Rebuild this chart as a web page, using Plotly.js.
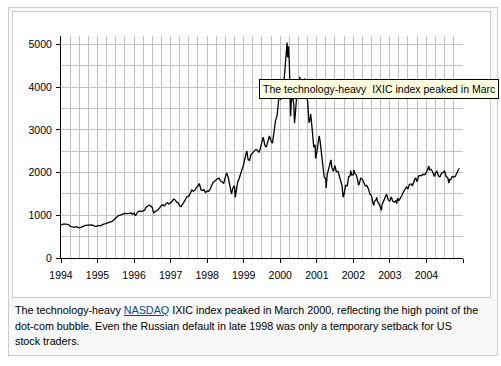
<!DOCTYPE html>
<html>
<head>
<meta charset="utf-8">
<script src="https://cdn.plot.ly/plotly-3.0.1.min.js"></script>
<style>
  html, body { margin: 0; padding: 0; background: #fff; width: 501px; height: 366px; overflow: hidden; }
  #outer { position: absolute; left: 8px; top: 7px; width: 490px; height: 349px; box-sizing: border-box; border: 1px solid #cccccc; background: #f9f9f9; }
  #inner { position: absolute; left: 12px; top: 11px; width: 479px; height: 287px; box-sizing: border-box; border: 1px solid #cccccc; background: #ffffff; }
  #chart { position: absolute; left: 0; top: 0; width: 501px; height: 366px; }
  #caption { position: absolute; left: 15px; top: 303px; font-family: "Liberation Sans", Arial, sans-serif; font-size: 10.75px; line-height: 15.5px; color: #000; white-space: nowrap; }
  #caption a { color: #0645ad; text-decoration: underline; }
</style>
</head>
<body>
<div id="outer"></div>
<div id="inner"></div>
<div id="chart"></div>
<div id="caption">The technology-heavy <a href="#">NASDAQ</a> IXIC index peaked in March 2000, reflecting the high point of the<br>dot-com bubble. Even the Russian default in late 1998 was only a temporary setback for US<br>stock traders.</div>
<script>
var dates = [
"1994-01-01","1994-01-15","1994-02-01","1994-02-15","1994-03-01","1994-03-15","1994-04-01","1994-04-15","1994-05-01","1994-05-15","1994-06-01","1994-06-15","1994-07-01","1994-07-15","1994-08-01","1994-08-15","1994-09-01","1994-09-15","1994-10-01","1994-10-15","1994-11-01","1994-11-15","1994-12-01","1994-12-15",
"1995-01-01","1995-01-15","1995-02-01","1995-02-15","1995-03-01","1995-03-15","1995-04-01","1995-04-15","1995-05-01","1995-05-15","1995-06-01","1995-06-15","1995-07-01","1995-07-15","1995-08-01","1995-08-15","1995-09-01","1995-09-15","1995-10-01","1995-10-15","1995-11-01","1995-11-15","1995-12-01","1995-12-15",
"1996-01-01","1996-01-15","1996-02-01","1996-02-15","1996-03-01","1996-03-15","1996-04-01","1996-04-15","1996-05-01","1996-05-15","1996-06-01","1996-06-15","1996-07-01","1996-07-15","1996-08-01","1996-08-15","1996-09-01","1996-09-15","1996-10-01","1996-10-15","1996-11-01","1996-11-15","1996-12-01","1996-12-15",
"1997-01-01","1997-01-15","1997-02-01","1997-02-15","1997-03-01","1997-03-15","1997-04-01","1997-04-15","1997-05-01","1997-05-15","1997-06-01","1997-06-15","1997-07-01","1997-07-15","1997-08-01","1997-08-15","1997-09-01","1997-09-15","1997-10-01","1997-10-15","1997-11-01","1997-11-15","1997-12-01","1997-12-15",
"1998-01-01","1998-01-15","1998-02-01","1998-02-15","1998-03-01","1998-03-15","1998-04-01","1998-04-15","1998-05-01","1998-05-15","1998-06-01","1998-06-15","1998-07-01","1998-07-15","1998-08-01","1998-08-15","1998-09-01","1998-09-15","1998-10-01","1998-10-08","1998-10-15","1998-11-01","1998-11-15","1998-12-01","1998-12-15",
"1999-01-01","1999-01-15","1999-02-01","1999-02-15","1999-03-01","1999-03-15","1999-04-01","1999-04-15","1999-05-01","1999-05-15","1999-06-01","1999-06-15","1999-07-01","1999-07-15","1999-08-01","1999-08-15","1999-09-01","1999-09-15","1999-10-01","1999-10-15","1999-11-01","1999-11-15","1999-12-01","1999-12-15",
"2000-01-01","2000-01-05","2000-01-15","2000-02-01","2000-02-15","2000-03-01","2000-03-10","2000-03-15","2000-03-24","2000-04-01","2000-04-14","2000-04-20","2000-05-01","2000-05-15","2000-05-23","2000-06-01","2000-06-15","2000-07-01","2000-07-15","2000-08-01","2000-08-15","2000-09-01","2000-09-15","2000-10-01","2000-10-15","2000-10-25","2000-11-01","2000-11-15","2000-12-01","2000-12-15","2000-12-20",
"2001-01-01","2001-01-15","2001-01-24","2001-02-01","2001-02-15","2001-03-01","2001-03-15","2001-04-01","2001-04-04","2001-04-15","2001-05-01","2001-05-22","2001-06-01","2001-06-15","2001-07-01","2001-07-15","2001-08-01","2001-08-15","2001-09-01","2001-09-10","2001-09-21","2001-10-01","2001-10-15","2001-11-01","2001-11-15","2001-12-01","2001-12-05","2001-12-15",
"2002-01-01","2002-01-04","2002-01-15","2002-02-01","2002-02-15","2002-02-21","2002-03-01","2002-03-15","2002-04-01","2002-04-15","2002-05-01","2002-05-15","2002-05-24","2002-06-01","2002-06-15","2002-07-01","2002-07-15","2002-07-24","2002-08-01","2002-08-15","2002-08-22","2002-09-01","2002-09-15","2002-10-01","2002-10-09","2002-10-15","2002-11-01","2002-11-15","2002-11-27","2002-12-01","2002-12-15",
"2003-01-01","2003-01-15","2003-02-01","2003-02-15","2003-03-01","2003-03-11","2003-03-20","2003-04-01","2003-04-15","2003-05-01","2003-05-15","2003-06-01","2003-06-15","2003-07-01","2003-07-15","2003-08-01","2003-08-15","2003-09-01","2003-09-15","2003-10-01","2003-10-15","2003-11-01","2003-11-15","2003-12-01","2003-12-15",
"2004-01-01","2004-01-15","2004-01-26","2004-02-01","2004-02-15","2004-03-01","2004-03-22","2004-04-01","2004-04-15","2004-05-01","2004-05-15","2004-06-01","2004-06-15","2004-07-01","2004-07-15","2004-08-01","2004-08-12","2004-08-20","2004-09-01","2004-09-15","2004-10-01","2004-10-15","2004-11-01","2004-11-15","2004-11-25"
];
var nasdaq = [
777,790,800,795,793,790,743,730,733,720,735,720,706,712,722,745,765,770,764,770,777,765,750,735,
752,765,755,780,793,800,817,825,843,850,864,900,933,985,1001,1005,1020,1043,1044,1040,1036,1045,1059,1020,
1052,990,1059,1095,1100,1090,1101,1120,1191,1215,1243,1220,1185,1060,1081,1110,1141,1195,1227,1245,1222,1270,1293,1260,
1291,1330,1380,1360,1309,1300,1222,1205,1261,1325,1400,1440,1443,1520,1594,1565,1587,1650,1686,1745,1594,1580,1601,1535,
1570,1560,1619,1700,1771,1795,1835,1860,1868,1800,1779,1745,1895,1990,1873,1730,1499,1640,1694,1419,1540,1771,1850,1950,2050,
2193,2350,2506,2300,2288,2420,2461,2480,2543,2530,2471,2560,2686,2830,2638,2600,2739,2860,2746,2690,2966,3220,3336,3650,
4069,3700,4060,3940,4420,4697,5048,4700,4960,4573,3321,3640,3861,3600,3160,3401,3850,3966,4246,3767,3850,4206,3850,3673,3170,3230,3370,3030,2598,2650,2330,
2471,2700,2860,2773,2500,2152,1900,1840,1638,1960,2116,2300,2110,2030,2161,2020,2027,1920,1805,1695,1423,1499,1700,1690,1900,1931,2046,1950,
1950,2059,1990,1934,1800,1716,1731,1870,1845,1760,1688,1700,1660,1616,1500,1463,1300,1229,1328,1360,1420,1315,1270,1172,1114,1250,1330,1410,1487,1479,1360,
1336,1430,1321,1310,1338,1279,1400,1341,1390,1464,1540,1596,1660,1623,1720,1735,1700,1810,1880,1787,1920,1932,1930,1960,1950,
2003,2100,2153,2066,2080,2030,1910,1994,2030,1920,1900,1987,2000,2048,1910,1887,1752,1840,1838,1910,1897,1910,1975,2060,2102
];
var yearTicks = ["1994-01-01","1995-01-01","1996-01-01","1997-01-01","1998-01-01","1999-01-01","2000-01-01","2001-01-01","2002-01-01","2003-01-01","2004-01-01","2005-01-01"];
var yearLabels = ["1994","1995","1996","1997","1998","1999","2000","2001","2002","2003","2004",""];
var yTicks = [0, 1000, 2000, 3000, 4000, 5000];
var tooltipText = "The technology-heavy\u00a0 IXIC index peaked in Marc";

var tickFont = { family: "Liberation Sans, Arial, sans-serif", size: 10.5, color: "#000" };
var trace = {
  x: dates, y: nasdaq, type: "scatter", mode: "lines",
  line: { color: "#000", width: 1.3 }, hoverinfo: "skip"
};
var layout = {
  width: 501, height: 366,
  margin: { l: 61, r: 38, t: 36, b: 108, pad: 0 },
  paper_bgcolor: "rgba(0,0,0,0)", plot_bgcolor: "#fff",
  showlegend: false,
  xaxis: {
    type: "date", range: ["1994-01-01", "2005-01-01"],
    tickmode: "array", tickvals: yearTicks, ticktext: yearLabels,
    ticks: "outside", ticklen: 4, tickcolor: "#000", tickwidth: 1, ticklabelstandoff: 3,
    showline: true, linecolor: "#000", linewidth: 1,
    showgrid: true, gridcolor: "#c0c0c0", gridwidth: 1,
    minor: { dtick: "M3", tick0: "1994-01-01", showgrid: true, gridcolor: "#c0c0c0", gridwidth: 1, ticks: "" },
    zeroline: false, tickfont: tickFont, fixedrange: true
  },
  yaxis: {
    range: [0, 5200],
    tickmode: "array", tickvals: yTicks,
    ticks: "outside", ticklen: 4, tickcolor: "#000", tickwidth: 1, ticklabelstandoff: 2,
    showline: true, linecolor: "#000", linewidth: 1,
    showgrid: true, gridcolor: "#c0c0c0", gridwidth: 1,
    minor: { dtick: 500, tick0: 0, showgrid: true, gridcolor: "#c0c0c0", gridwidth: 1, ticks: "" },
    zeroline: false, tickfont: tickFont, fixedrange: true
  },
  annotations: [{
    xref: "paper", yref: "paper", x: 0.492, y: 0.805,
    xanchor: "left", yanchor: "top",
    text: tooltipText, showarrow: false, align: "left",
    font: { family: "Liberation Sans, Arial, sans-serif", size: 10.5, color: "#000" },
    bgcolor: "#ffffe1", bordercolor: "#000", borderwidth: 1, borderpad: 3
  }]
};
Plotly.newPlot("chart", [trace], layout, { staticPlot: true, displayModeBar: false });
</script>
</body>
</html>
